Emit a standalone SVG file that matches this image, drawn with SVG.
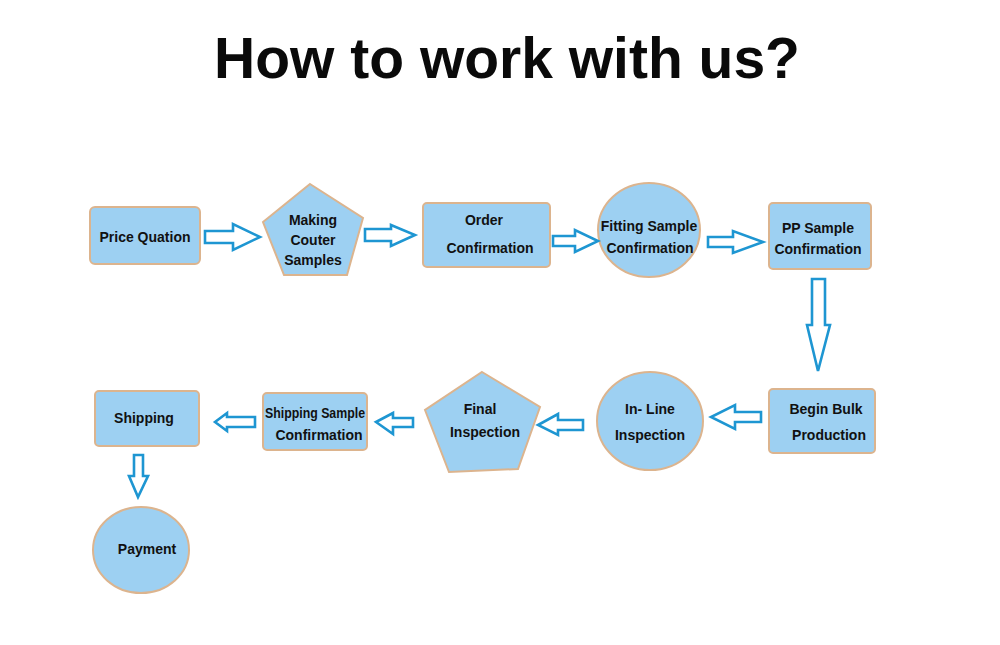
<svg xmlns="http://www.w3.org/2000/svg" width="1000" height="645" viewBox="0 0 1000 645">
<style>
.n{fill:#9dd0f2;stroke:#dcb48e;stroke-width:2}
.t{font-family:"Liberation Sans",Arial,sans-serif;font-weight:bold;font-size:14px;fill:#111;text-anchor:middle}
.a{fill:#fff;stroke:#1e96d2;stroke-width:2.6;stroke-linejoin:miter}
</style>
<rect width="1000" height="645" fill="#fff"/>
<text x="507" y="78" font-family="Liberation Sans,Arial,sans-serif" font-weight="bold" font-size="57" fill="#0a0a0a" text-anchor="middle">How to work with us?</text>
<g id="n1"><rect class="n" x="90" y="207" width="110" height="57" rx="5"/><text class="t" x="145" y="242">Price Quation</text></g>
<g id="n2"><polygon class="n" points="310,184 363,218 347,275 284,275 263,222"/><text class="t" x="313" y="225">Making</text><text class="t" x="313" y="245">Couter</text><text class="t" x="313" y="265">Samples</text></g>
<g id="n3"><rect class="n" x="423" y="203" width="127" height="64" rx="4"/><text class="t" x="484" y="225">Order</text><text class="t" x="490" y="253">Confirmation</text></g>
<g id="n4"><ellipse class="n" cx="649" cy="230" rx="51" ry="47"/><text class="t" x="649" y="231">Fitting Sample</text><text class="t" x="650" y="253">Confirmation</text></g>
<g id="n5"><rect class="n" x="769" y="203" width="102" height="66" rx="4"/><text class="t" x="818" y="233">PP Sample</text><text class="t" x="818" y="254">Confirmation</text></g>
<g id="n6"><rect class="n" x="769" y="389" width="106" height="64" rx="4"/><text class="t" x="826" y="414">Begin Bulk</text><text class="t" x="829" y="440">Production</text></g>
<g id="n7"><ellipse class="n" cx="650" cy="421" rx="53" ry="49"/><text class="t" x="650" y="414">In- Line</text><text class="t" x="650" y="440">Inspection</text></g>
<g id="n8"><polygon class="n" points="482,372 540,407 518,469 449,472 425,410"/><text class="t" x="480" y="414">Final</text><text class="t" x="485" y="437">Inspection</text></g>
<g id="n9"><rect class="n" x="263" y="393" width="104" height="57" rx="4"/><text class="t" x="315" y="418" textLength="100" lengthAdjust="spacingAndGlyphs">Shipping Sample</text><text class="t" x="319" y="440">Confirmation</text></g>
<g id="n10"><rect class="n" x="95" y="391" width="104" height="55" rx="4"/><text class="t" x="144" y="423">Shipping</text></g>
<g id="n11"><ellipse class="n" cx="141" cy="550" rx="48" ry="43"/><text class="t" x="147" y="554">Payment</text></g>
<g id="connectors">
<polygon class="a" points="205,231 233,231 233,224 260,237 233,250 233,243 205,243"/>
<polygon class="a" points="365,229 391,229 391,225 415,235 391,246 391,241 365,241"/>
<polygon class="a" points="553,236 575,236 575,230 598,241 575,252 575,246 553,246"/>
<polygon class="a" points="708,237 733,237 733,231 763,242 733,253 733,247 708,247"/>
<polygon class="a" points="812,279 825,279 825,325 830,325 818,371 807,325 812,325"/>
<polygon class="a" points="761,412 735,412 735,405 711,417 735,429 735,422 761,422"/>
<polygon class="a" points="583,420 558,420 558,414 538,425 558,435 558,430 583,430"/>
<polygon class="a" points="413,418 393,418 393,413 376,422 393,434 393,427 413,427"/>
<polygon class="a" points="255,417 227,417 227,413 215,422 227,431 227,427 255,427"/>
<polygon class="a" points="134,455 143,455 143,476 148,476 138,497 129,476 134,476"/>
</g>
</svg>
